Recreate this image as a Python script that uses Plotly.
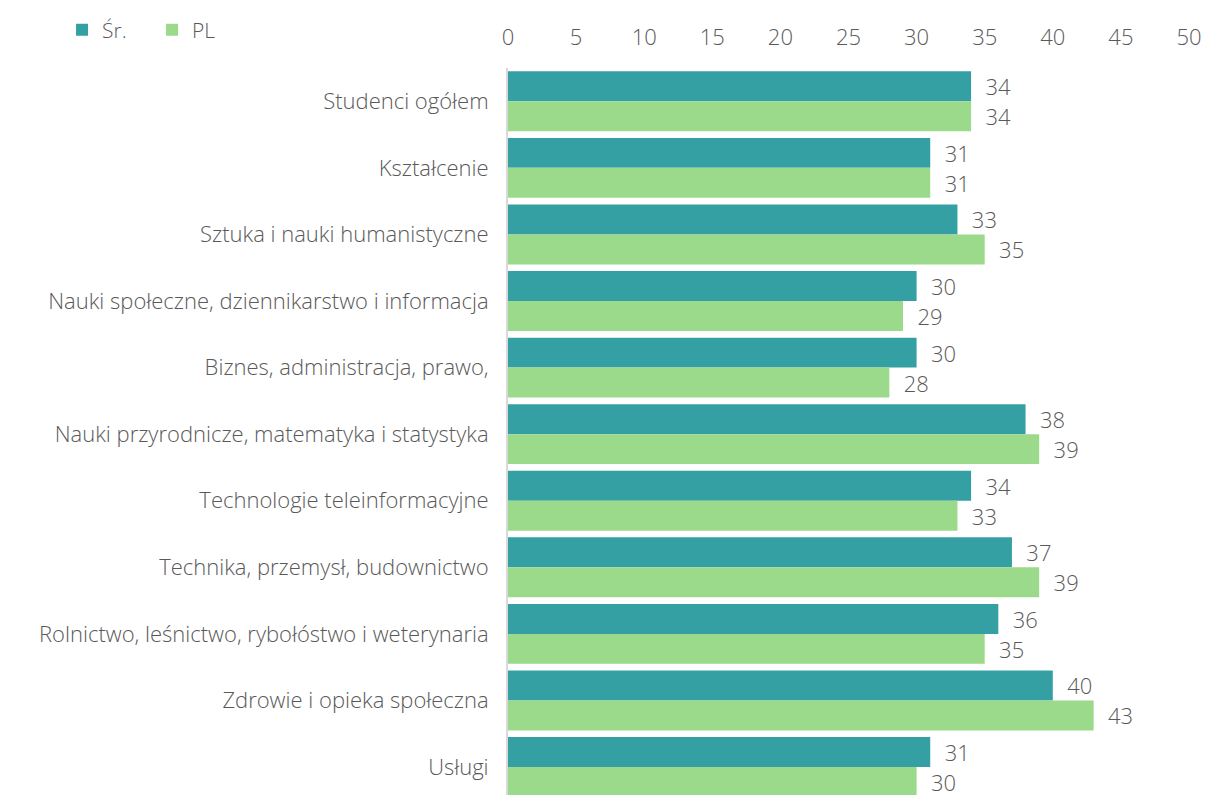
import plotly.graph_objects as go

categories = [
    "Studenci ogółem",
    "Kształcenie",
    "Sztuka i nauki humanistyczne",
    "Nauki społeczne, dziennikarstwo i informacja",
    "Biznes, administracja, prawo,",
    "Nauki przyrodnicze, matematyka i statystyka",
    "Technologie teleinformacyjne",
    "Technika, przemysł, budownictwo",
    "Rolnictwo, leśnictwo, rybołóstwo i weterynaria",
    "Zdrowie i opieka społeczna",
    "Usługi",
]
sr_values = [34, 31, 33, 30, 30, 38, 34, 37, 36, 40, 31]
pl_values = [34, 31, 35, 29, 28, 39, 33, 39, 35, 43, 30]
x_ticks = [0, 5, 10, 15, 20, 25, 30, 35, 40, 45, 50]

FONT = "'Open Sans', Lato, sans-serif"
GREY = "#595959"

fig = go.Figure()
fig.add_trace(go.Bar(
    y=categories, x=sr_values, orientation="h", name="Śr.",
    marker=dict(color="#35A0A4", line=dict(color="#35A0A4", width=0)),
    text=sr_values, texttemplate="  %{x}", textposition="outside",
    textfont=dict(size=22, color=GREY, family=FONT, weight=300), cliponaxis=False,
))
fig.add_trace(go.Bar(
    y=categories, x=pl_values, orientation="h", name="PL",
    marker=dict(color="#9BDA8B", line=dict(color="#9BDA8B", width=0)),
    text=pl_values, texttemplate="  %{x}", textposition="outside",
    textfont=dict(size=22, color=GREY, family=FONT, weight=300), cliponaxis=False,
))

fig.update_layout(
    width=1201, height=787,
    margin=dict(l=500, r=20, t=60, b=0, autoexpand=False),
    barmode="group", bargap=0.1, bargroupgap=0,
    plot_bgcolor="white", paper_bgcolor="white",
    font=dict(family=FONT, color=GREY, size=18),
    showlegend=True,
    legend=dict(
        orientation="h", xref="container", yref="container",
        x=0.045, y=1 - 22 / 787, xanchor="left", yanchor="middle",
        font=dict(size=21, color=GREY, family=FONT, weight=300),
        entrywidth=45, entrywidthmode="pixels", traceorder="normal",
        itemwidth=30,
    ),
    xaxis=dict(
        side="top", range=[0, 50], tickvals=x_ticks, showgrid=False,
        zeroline=False, showline=False, ticks="", ticklabelstandoff=18,
        ticklabeloverflow="allow",
        tickfont=dict(size=22, color=GREY, family=FONT, weight=300), automargin=False,
    ),
    yaxis=dict(
        categoryorder="array", categoryarray=categories,
        range=[10.42, -0.5], showgrid=False, zeroline=False,
        showline=True, linecolor="#D9D9D9", linewidth=2, ticks="",
        ticklabelstandoff=13, automargin=False,
        tickfont=dict(size=22, color=GREY, family=FONT, weight=300),
    ),
)

fig.write_html("out.html")
